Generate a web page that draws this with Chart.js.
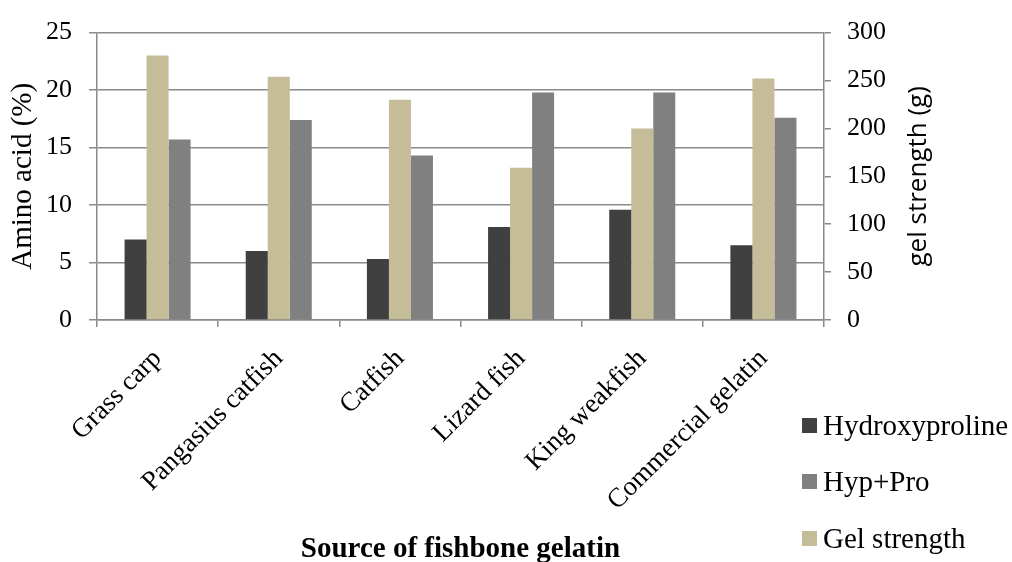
<!DOCTYPE html>
<html>
<head>
<meta charset="utf-8">
<script src="https://cdn.jsdelivr.net/npm/chart.js@4.4.0/dist/chart.umd.min.js"></script>
<style>
  html, body { margin: 0; padding: 0; background: #fff; }
  #wrap { position: relative; width: 1012px; height: 562px; }
  #legend {
    position: absolute; left: 802px; top: 397px;
    font-family: 'Liberation Serif', 'Times New Roman', serif;
    font-size: 29px; color: #000;
  }
  .row { display: flex; align-items: center; height: 56.5px; }
  .box { width: 15px; height: 15px; margin-right: 6px; }
</style>
</head>
<body>
<div id="wrap">
  <canvas id="chart" width="1012" height="562"></canvas>
  <div id="legend"></div>
</div>
<script>
// --- Data ---
const categories = ['Grass carp', 'Pangasius catfish', 'Catfish', 'Lizard fish', 'King weakfish', 'Commercial gelatin'];
const hydroxyproline = [7.0, 6.0, 5.3, 8.1, 9.6, 6.5];   // % (left axis)
const hypPro = [15.7, 17.4, 14.3, 19.8, 19.8, 17.6];      // % (left axis)
const gelStrength = [276, 254, 230, 159, 200, 252];       // g (right axis)
const leftTicks = [0, 5, 10, 15, 20, 25];
const rightTicks = [0, 50, 100, 150, 200, 250, 300];

const DARK = '#404040';
const GRAY = '#808080';
const TAN = '#c4bd97';
const AXIS = '#8a8a8a';
const SERIF = "'Liberation Serif', 'Times New Roman', serif";

Chart.defaults.font.family = SERIF;
Chart.defaults.color = '#000';

// right axis title reads bottom-to-top, so draw it by hand
const rightTitle = {
    id: 'rightTitle',
    afterDraw(chart) {
        const { ctx, chartArea, scales } = chart;
        ctx.save();
        ctx.translate(scales.y1.left + 95, (chartArea.top + chartArea.bottom) / 2);
        ctx.rotate(-Math.PI / 2);
        ctx.font = "26px 'Open Sans'";
        ctx.textAlign = 'center';
        ctx.textBaseline = 'middle';
        ctx.fillStyle = '#000';
        ctx.fillText('gel strength (g)', 0, 0);
        ctx.restore();
    }
};

const ctx = document.getElementById('chart').getContext('2d');
new Chart(ctx, {
    type: 'bar',
    data: {
        labels: categories,
        datasets: [
            { label: 'Hydroxyproline', data: hydroxyproline, backgroundColor: DARK, yAxisID: 'y' },
            { label: 'Gel strength', data: gelStrength, backgroundColor: TAN, yAxisID: 'y1' },
            { label: 'Hyp+Pro', data: hypPro, backgroundColor: GRAY, yAxisID: 'y' }
        ]
    },
    options: {
        responsive: false,
        animation: false,
        devicePixelRatio: 1,
        layout: { padding: { top: 25, left: 0, right: 0, bottom: 0 } },
        datasets: { bar: { categoryPercentage: 0.545, barPercentage: 1.0 } },
        plugins: {
            legend: { display: false },
            tooltip: { enabled: false }
        },
        scales: {
            x: {
                grid: { offset: true, drawOnChartArea: false, tickLength: 7, color: AXIS, lineWidth: 1.5 },
                border: { color: AXIS, width: 1.5 },
                ticks: { minRotation: 45, maxRotation: 45, autoSkip: false, padding: 16, font: { size: 27 } },
                title: {
                    display: true,
                    text: 'Source of fishbone gelatin',
                    font: { size: 29, weight: 'bold' },
                    padding: { top: 0, bottom: -5 }
                },
                afterFit: s => { s.height = 242; }
            },
            y: {
                position: 'left',
                min: 0, max: 25,
                afterBuildTicks: s => { s.ticks = leftTicks.map(v => ({ value: v })); },
                grid: { color: AXIS, lineWidth: 1.5, tickLength: 8 },
                border: { color: AXIS, width: 1.5 },
                ticks: { padding: 17, font: { size: 26 } },
                title: {
                    display: true,
                    text: 'Amino acid (%)',
                    font: { size: 29 },
                    padding: { top: 6, bottom: 0 }
                },
                afterFit: s => { s.width = 97; }
            },
            y1: {
                position: 'right',
                min: 0, max: 300,
                afterBuildTicks: s => { s.ticks = rightTicks.map(v => ({ value: v })); },
                grid: { drawOnChartArea: false, color: AXIS, lineWidth: 1.5, tickLength: 7 },
                border: { color: AXIS, width: 1.5 },
                ticks: { padding: 16, font: { size: 26 } },
                afterFit: s => { s.width = 188; }
            }
        }
    },
    plugins: [rightTitle]
});

// --- Legend (Hydroxyproline, Hyp+Pro, Gel strength) ---
const legendItems = [
    ['Hydroxyproline', DARK],
    ['Hyp+Pro', GRAY],
    ['Gel strength', TAN]
];
document.getElementById('legend').innerHTML = legendItems
    .map(([name, col]) => `<div class="row"><span class="box" style="background:${col}"></span>${name}</div>`)
    .join('');
</script>
</body>
</html>
